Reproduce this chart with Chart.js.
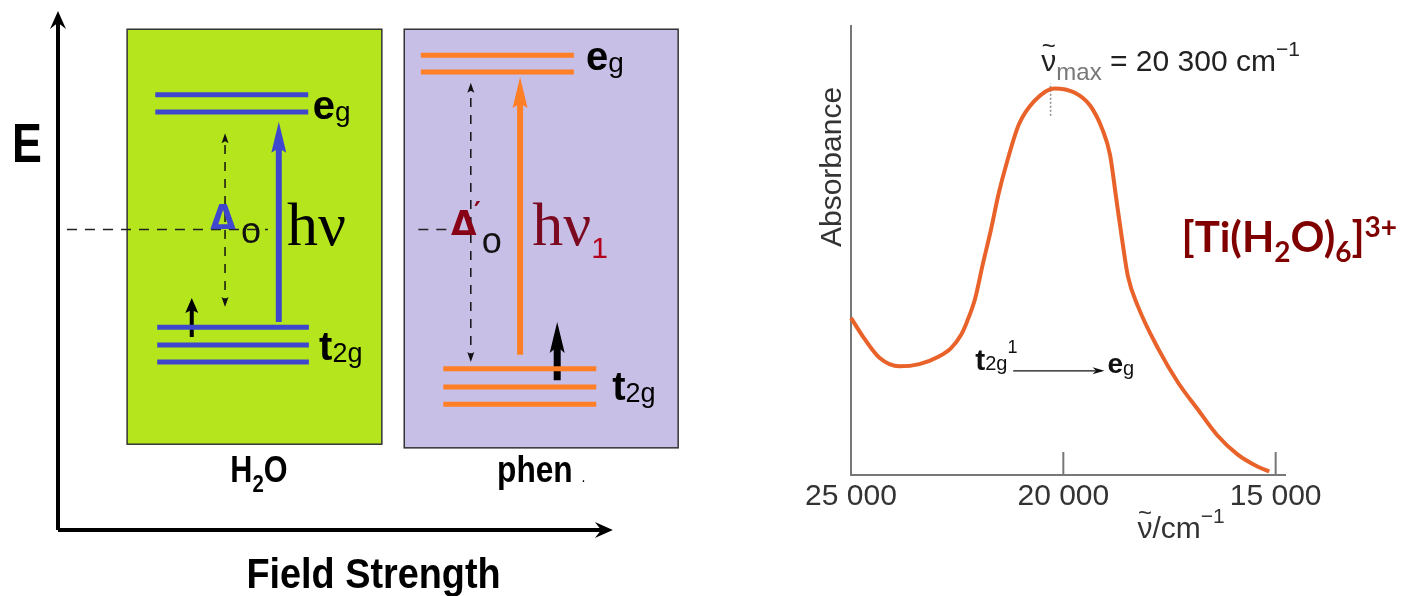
<!DOCTYPE html>
<html lang="en">
<head>
<meta charset="UTF-8">
<title>[Ti(H2O)6]3+ crystal field splitting</title>
<script src="https://cdn.jsdelivr.net/npm/chart.js@4.4.1/dist/chart.umd.min.js"></script>
<style>
  body { margin: 0; background: #fff; }
  #wrap { position: relative; width: 1408px; height: 596px; }
  canvas { position: absolute; top: 0; }
</style>
</head>
<body>
<div id="wrap">
  <canvas id="levels" width="700" height="596" style="left:0"></canvas>
  <canvas id="spectrum" width="708" height="596" style="left:700px"></canvas>
</div>
<script>
// ---- energy level diagram (arbitrary energy units, 0..100) ----
const ligandNames = ['H2O', 'phen'];
const egEnergy = [[83.7, 80.4], [91.3, 88.1]];
const t2gEnergy = [[39.0, 35.6, 32.3], [31.0, 27.5, 24.2]];
const baryEnergy = 57.8;
const hvArrow = [[40.0, 78.5], [33.7, 87.1]];        // excitation, from -> to
const deltaArrow = [[42.9, 76.3], [32.3, 86.0]];     // splitting span
const electronArrow = [[37.1, 44.6], [28.8, 40.0]];  // the single d electron

// ---- absorption spectrum ----
const wavenumber = [25000, 24710, 24330, 23860, 23390, 22930, 22650, 22410, 22270, 22080, 21900, 21710,
  21520, 21330, 21050, 20680, 20210, 19740, 19370, 19090, 18900, 18760, 18620, 18480, 18240, 17770,
  17300, 16840, 16370, 15900, 15430, 15150];
const absorbance = [0.350, 0.307, 0.261, 0.242, 0.247, 0.264, 0.282, 0.312, 0.341, 0.392, 0.468, 0.544,
  0.628, 0.696, 0.780, 0.833, 0.861, 0.852, 0.823, 0.772, 0.713, 0.620, 0.527, 0.443, 0.375, 0.282,
  0.206, 0.147, 0.088, 0.046, 0.019, 0.008];
const xTicks = [25000, 20000, 15000];
const nuMax = 20300;

// layout of the two ligand panels (diagram x units)
const panelLayout = [
  { box: [10.8, 50.6, 16.5, 96.3], fill: '#b5e61d', color: '#3f48cc', eg: [15.2, 39.1], t2g: [15.5, 39.2],
    hv: 34.5, delta: 26.1, electron: 20.9, eWidth: 4, eHead: [15, 13], bary: [1.4, 32.8] },
  { box: [54.1, 96.9, 15.8, 96.3], fill: '#c8bfe7', color: '#ff7f27', eg: [56.7, 80.6], t2g: [60.2, 84.1],
    hv: 72.2, delta: 64.5, electron: 78.0, eWidth: 7, eHead: [31, 15], bary: [56.3, 62.0] }
];

const SANS = '"Liberation Sans", Arial, sans-serif';
const DEJAVU = '"DejaVu Sans", sans-serif';
const SERIF = '"Liberation Serif", "Times New Roman", serif';
const LATO = 'Lato, "Open Sans", sans-serif';
const f = (size, fam, weight) => (weight ? weight + ' ' : '') + size + 'px ' + fam;

function seg(a, b, s) {
  return {
    data: [{ x: a[0], y: a[1] }, { x: b[0], y: b[1] }],
    borderColor: s.color, borderWidth: s.width, borderDash: s.dash || [],
    borderCapStyle: 'butt', pointRadius: 0, fill: false, clip: false,
    arrow: s.arrow, arrowColor: s.color
  };
}

// arrow heads drawn on the ends of datasets that carry an `arrow` spec
function headsOf(ds, pts) {
  const out = [];
  const a = ds.arrow, n = pts.length;
  if (a.end) out.push({ x: pts[n - 1].x, y: pts[n - 1].y, ang: Math.atan2(pts[n - 1].y - pts[n - 2].y, pts[n - 1].x - pts[n - 2].x) });
  if (a.start) out.push({ x: pts[0].x, y: pts[0].y, ang: Math.atan2(pts[0].y - pts[1].y, pts[0].x - pts[1].x) });
  return out;
}
const arrowPlugin = {
  id: 'arrows',
  beforeDatasetDraw(chart, args) {
    const ds = chart.data.datasets[args.index];
    if (!ds.arrow) return;
    const ctx = chart.ctx, a = ds.arrow;
    ctx.save();
    ctx.beginPath();
    ctx.rect(0, 0, chart.width, chart.height);
    headsOf(ds, args.meta.data).forEach(h => {
      const ux = Math.cos(h.ang), uy = Math.sin(h.ang), nx = -uy, ny = ux;
      const ext = (ds.borderWidth / 2) * a.len / (a.w / 2) + 1;
      const hw = ds.borderWidth / 2 + 3;
      const fx = h.x + ux * 2, fy = h.y + uy * 2, bx = h.x - ux * ext, by = h.y - uy * ext;
      ctx.moveTo(fx + nx * hw, fy + ny * hw);
      ctx.lineTo(fx - nx * hw, fy - ny * hw);
      ctx.lineTo(bx - nx * hw, by - ny * hw);
      ctx.lineTo(bx + nx * hw, by + ny * hw);
      ctx.closePath();
    });
    ctx.clip('evenodd');
  },
  afterDatasetDraw(chart, args) {
    const ds = chart.data.datasets[args.index];
    if (!ds.arrow) return;
    const ctx = chart.ctx, a = ds.arrow;
    ctx.restore();
    headsOf(ds, args.meta.data).forEach(h => {
      ctx.save();
      ctx.translate(h.x, h.y);
      ctx.rotate(h.ang);
      ctx.beginPath();
      ctx.moveTo(0, 0);
      ctx.lineTo(-a.len, -a.w / 2);
      ctx.lineTo(-a.len * (1 - a.notch), 0);
      ctx.lineTo(-a.len, a.w / 2);
      ctx.closePath();
      ctx.fillStyle = ds.arrowColor;
      ctx.fill();
      ctx.restore();
    });
  }
};

// runs of text side by side; a run may carry an accent (tilde) centred above it
function drawRich(ctx, x, y, runs, o) {
  o = o || {};
  const sx = o.sx || 1;
  let w = 0;
  runs.forEach(r => { ctx.font = r.font; r.w = ctx.measureText(r.t).width; w += r.w; });
  ctx.save();
  ctx.translate(x, y);
  if (o.rotate) ctx.rotate(o.rotate);
  ctx.scale(sx, 1);
  ctx.textBaseline = 'alphabetic';
  ctx.textAlign = 'left';
  let cx = o.align === 'center' ? -w / 2 : 0;
  runs.forEach(r => {
    ctx.font = r.font;
    ctx.fillStyle = r.color || o.color || '#000';
    ctx.fillText(r.t, cx, r.dy || 0);
    if (r.accent) {
      ctx.font = r.accentFont;
      const aw = ctx.measureText(r.accent).width;
      ctx.fillText(r.accent, cx + (r.w - aw) / 2, (r.dy || 0) + r.accentDy);
    }
    cx += r.w;
  });
  ctx.restore();
}

// text placed at data coordinates of the chart it belongs to
function textPlugin(items) {
  return {
    id: 'richText',
    afterDatasetsDraw(chart) {
      const sx = chart.scales.x, sy = chart.scales.y;
      items.forEach(it => drawRich(chart.ctx, sx.getPixelForValue(it.x), sy.getPixelForValue(it.y), it.runs, it));
    }
  };
}

// ---------------- left: splitting diagram ----------------
const levelSets = [];
ligandNames.forEach((name, i) => {
  const L = panelLayout[i];
  egEnergy[i].forEach(e => levelSets.push(seg([L.eg[0], e], [L.eg[1], e], { color: L.color, width: 5 })));
  t2gEnergy[i].forEach(e => levelSets.push(seg([L.t2g[0], e], [L.t2g[1], e], { color: L.color, width: 5 })));
  levelSets.push(seg([L.bary[0], baryEnergy], [L.bary[1], baryEnergy], { color: '#222', width: 1.5, dash: [10, 8] }));
  levelSets.push(seg([L.delta, deltaArrow[i][0]], [L.delta, deltaArrow[i][1]],
    { color: '#111', width: 1.5, dash: [9, 8], arrow: { start: true, end: true, len: 10, w: 7, notch: 0.2 } }));
  levelSets.push(seg([L.hv, hvArrow[i][0]], [L.hv, hvArrow[i][1]],
    { color: L.color, width: 6, arrow: { end: true, len: 31, w: 15, notch: 0.15 } }));
  levelSets.push(seg([L.electron, electronArrow[i][0]], [L.electron, electronArrow[i][1]],
    { color: '#000', width: L.eWidth, arrow: { end: true, len: L.eHead[0], w: L.eHead[1], notch: 0.2 } }));
});
levelSets.push(seg([0, 0], [0, 99.8], { color: '#000', width: 4, arrow: { end: true, len: 18, w: 16, notch: 0.35 } }));
levelSets.push(seg([0, 0], [86.7, 0], { color: '#000', width: 4, arrow: { end: true, len: 18, w: 16, notch: 0.35 } }));

const panelPlugin = {
  id: 'panels',
  beforeDatasetsDraw(chart) {
    const ctx = chart.ctx, sx = chart.scales.x, sy = chart.scales.y;
    panelLayout.forEach(L => {
      const x0 = sx.getPixelForValue(L.box[0]), x1 = sx.getPixelForValue(L.box[1]);
      const y0 = sy.getPixelForValue(L.box[3]), y1 = sy.getPixelForValue(L.box[2]);
      ctx.save();
      ctx.fillStyle = L.fill;
      ctx.fillRect(x0, y0, x1 - x0, y1 - y0);
      ctx.strokeStyle = '#333';
      ctx.lineWidth = 1.5;
      ctx.strokeRect(x0, y0, x1 - x0, y1 - y0);
      ctx.restore();
    });
  }
};

const DRED = '#880015';
const diagramLabels = [
  { x: -7.2, y: 70.8, sx: 0.8, runs: [{ t: 'E', font: f(56, SANS, 'bold') }] },
  { x: 49.3, y: -11.2, sx: 0.9, align: 'center', runs: [{ t: 'Field Strength', font: f(42, SANS, 'bold') }] },
  { x: 31.4, y: 9.2, sx: 0.85, align: 'center', runs: [{ t: 'H', font: f(36, SANS, 'bold') },
    { t: '2', font: f(24, SANS, 'bold'), dy: 10 }, { t: 'O', font: f(36, SANS, 'bold') }] },
  { x: 68.6, y: 9.2, sx: 0.88, runs: [{ t: 'phen ', font: f(36, SANS, 'bold') }, { t: '.', font: f(16, SANS) }] },
  { x: 39.8, y: 79.0, runs: [{ t: 'e', font: f(40, SANS, 'bold') }, { t: 'g', font: f(28, SANS), dy: 2 }] },
  { x: 82.5, y: 88.4, runs: [{ t: 'e', font: f(40, SANS, 'bold') }, { t: 'g', font: f(28, SANS), dy: 2 }] },
  { x: 40.8, y: 32.7, runs: [{ t: 't', font: f(40, SANS, 'bold') }, { t: '2g', font: f(27, SANS), dy: 2 }] },
  { x: 86.6, y: 25.0, runs: [{ t: 't', font: f(40, SANS, 'bold') }, { t: '2g', font: f(27, SANS), dy: 2 }] },
  { x: 23.8, y: 57.9, runs: [{ t: 'Δ', font: f(33, DEJAVU, 'bold'), color: '#3f48cc' }] },
  { x: 28.6, y: 55.2, runs: [{ t: 'o', font: f(36, SANS), color: '#111' }] },
  { x: 61.4, y: 56.7, runs: [{ t: 'Δ', font: f(33, DEJAVU, 'bold'), color: DRED }] },
  { x: 65.0, y: 59.4, runs: [{ t: '′', font: f(26, DEJAVU, 'bold'), color: DRED }] },
  { x: 66.2, y: 53.3, runs: [{ t: 'o', font: f(36, SANS), color: '#111' }] },
  { x: 35.8, y: 54.8, runs: [{ t: 'hν', font: f(62, SERIF) }] },
  { x: 74.1, y: 54.8, runs: [{ t: 'hν', font: f(62, SERIF), color: '#7b0a20' }, { t: '1', font: f(30, SANS), color: '#b3001b', dy: 13 }] }
];

new Chart(document.getElementById('levels'), {
  type: 'line',
  data: { datasets: levelSets },
  options: {
    responsive: false, animation: false, events: [],
    layout: { padding: { left: 58, right: 2, top: 10, bottom: 66 } },
    scales: {
      x: { type: 'linear', min: 0, max: 100, display: false },
      y: { type: 'linear', min: 0, max: 100, display: false }
    },
    plugins: { legend: { display: false }, tooltip: { enabled: false } }
  },
  plugins: [panelPlugin, arrowPlugin, textPlugin(diagramLabels)]
});

// ---------------- right: absorption spectrum ----------------
const INK = '#222';
const nuRun = { t: 'ν', font: f(30, SANS), accent: '~', accentFont: f(24, SANS), accentDy: -17 };
const spectrumLabels = [
  { x: 20519, y: 0.899, color: INK, runs: [nuRun, { t: 'max', font: f(24, SANS), color: '#777', dy: 9 },
    { t: ' = 20 300 cm', font: f(30, SANS) }, { t: '\u22121', font: f(21, SANS), dy: -15 }] },
  { x: 25236, y: 0.686, rotate: -Math.PI / 2, align: 'center', runs: [{ t: 'Absorbance', font: f(30, SANS) }], color: '#333' },
  { x: 18255, y: -0.1405, color: '#333', runs: [nuRun, { t: '/cm', font: f(30, SANS) }, { t: '\u22121', font: f(21, SANS), dy: -15 }] },
  { x: 17217, y: 0.497, color: '#800000', runs: [{ t: '[Ti(H', font: f(42, LATO, 'bold') }, { t: '2', font: f(28, LATO, 'bold'), dy: 10 },
    { t: 'O)', font: f(42, LATO, 'bold') }, { t: '6', font: f(28, LATO, 'bold'), dy: 10 }, { t: ']', font: f(42, LATO, 'bold') },
    { t: '3+', font: f(28, LATO, 'bold'), dy: -15 }] },
  { x: 22075, y: 0.234, color: '#111', runs: [{ t: 't', font: f(30, SANS, 'bold') }, { t: '2g', font: f(20, SANS) },
    { t: '1', font: f(18, SANS), dy: -17 }] },
  { x: 18962, y: 0.2274, color: '#111', runs: [{ t: 'e', font: f(28, SANS, 'bold') }, { t: 'g', font: f(20, SANS), dy: 2 }] }
];

const tickMarkPlugin = {
  id: 'innerTicks',
  afterDraw(chart) {
    const ctx = chart.ctx, sx = chart.scales.x, bottom = chart.chartArea.bottom;
    ctx.save();
    ctx.strokeStyle = '#777';
    ctx.lineWidth = 2;
    xTicks.slice(1).forEach(v => {
      const px = sx.getPixelForValue(v);
      ctx.beginPath();
      ctx.moveTo(px, bottom);
      ctx.lineTo(px, bottom - 23);
      ctx.stroke();
    });
    ctx.restore();
  }
};

const spectrumSets = [
  {
    data: wavenumber.map((v, i) => ({ x: v, y: absorbance[i] })),
    borderColor: '#e8622a', borderWidth: 4, cubicInterpolationMode: 'monotone',
    pointRadius: 0, fill: false, clip: false
  },
  seg([nuMax, 0.80], [nuMax, 0.872], { color: '#8a8a8a', width: 1.5, dash: [2, 2] }),
  seg([21180, 0.232], [19030, 0.232], { color: '#111', width: 1.3, arrow: { end: true, len: 12, w: 7, notch: 0.3 } })
];

new Chart(document.getElementById('spectrum'), {
  type: 'line',
  data: { datasets: spectrumSets },
  options: {
    responsive: false, animation: false, events: [],
    layout: { padding: { left: 151, right: 123, top: 26, bottom: 61 } },
    scales: {
      x: {
        type: 'linear', reverse: true, min: 14780, max: 25000,
        afterBuildTicks: s => { s.ticks = xTicks.map(v => ({ value: v })); },
        afterFit: s => { s.height = 60; },
        ticks: {
          autoSkip: false, maxRotation: 0, padding: 4, color: '#333',
          font: { family: '"Liberation Sans", Arial, sans-serif', size: 30 },
          callback: v => String(v).replace(/\B(?=(\d{3})+(?!\d))/g, ' ')
        },
        grid: { display: false, drawTicks: false },
        border: { display: true, color: '#777', width: 2 }
      },
      y: {
        type: 'linear', min: 0, max: 1,
        afterFit: s => { s.width = 0; },
        ticks: { display: false },
        grid: { display: false, drawTicks: false },
        border: { display: true, color: '#777', width: 2 }
      }
    },
    plugins: { legend: { display: false }, tooltip: { enabled: false } }
  },
  plugins: [tickMarkPlugin, arrowPlugin, textPlugin(spectrumLabels)]
});
</script>
</body>
</html>
